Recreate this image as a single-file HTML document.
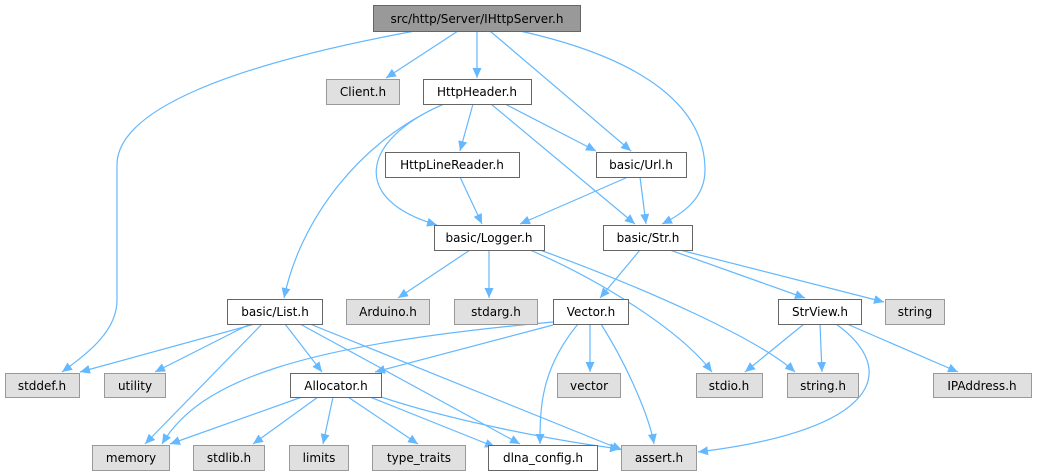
<!DOCTYPE html>
<html><head><meta charset="utf-8"><style>
html,body{margin:0;padding:0;background:#fff;width:1037px;height:476px;overflow:hidden}
svg text{font-family:"DejaVu Sans","Liberation Sans",sans-serif;font-size:12px;fill:#000;text-anchor:middle}
</style></head><body>
<svg width="1037" height="476" viewBox="0 0 1037 476" xmlns="http://www.w3.org/2000/svg">
<defs><marker id="a" markerWidth="11" markerHeight="9" refX="10" refY="4.5" orient="auto" markerUnits="userSpaceOnUse"><path d="M0,0 L10,4.5 L0,9 z" fill="#63b8ff"/></marker></defs>
<g fill="none" stroke="#63b8ff" stroke-width="1.2" marker-end="url(#a)">
<path d="M415,31 C230,65 117,110 117,165 L117,300 C117,330 90,352 62,372"/>
<path d="M458,31 L386,78"/>
<path d="M477,31 L477,78"/>
<path d="M490,31 L631,151"/>
<path d="M520,31 C650,60 705,110 705,170 C705,200 680,215 662,224"/>
<path d="M444,104 C360,140 300,220 284,298"/>
<path d="M444,104 C360,140 350,200 437,225"/>
<path d="M473,104 L460,151"/>
<path d="M505,104 L596,151"/>
<path d="M491,104 L635,224"/>
<path d="M460,177 L482,224"/>
<path d="M628,177 L520,224"/>
<path d="M640,177 L646,224"/>
<path d="M470,250 L398,298"/>
<path d="M489,250 L489,298"/>
<path d="M530,250 C600,280 680,330 712,372"/>
<path d="M540,250 C650,290 760,340 795,372"/>
<path d="M640,250 L600,298"/>
<path d="M670,250 L805,298"/>
<path d="M680,250 L884,302"/>
<path d="M255,324 L80,372"/>
<path d="M250,324 L155,372"/>
<path d="M262,324 L145,444"/>
<path d="M285,324 L322,372"/>
<path d="M300,324 L520,444"/>
<path d="M310,324 L622,450"/>
<path d="M553,322 C300,345 200,380 162,444"/>
<path d="M553,325 L375,372"/>
<path d="M578,324 C540,370 540,410 540,444"/>
<path d="M590,324 L590,372"/>
<path d="M601,324 C630,370 650,420 654,444"/>
<path d="M804,324 L745,372"/>
<path d="M820,324 L822,372"/>
<path d="M847,324 L958,372"/>
<path d="M836,324 C900,370 880,430 698,452"/>
<path d="M302,397 L170,444"/>
<path d="M318,397 L253,444"/>
<path d="M333,397 L323,444"/>
<path d="M348,397 L418,444"/>
<path d="M370,397 L495,447"/>
<path d="M381,397 C450,420 550,440 620,449"/>
</g>
<g stroke-width="1">
<rect x="373.5" y="5.5" width="207" height="26" fill="#999" stroke="#666"/>
<rect x="326.5" y="79.5" width="73" height="25" fill="#e0e0e0" stroke="#999"/>
<rect x="423.5" y="79.5" width="108" height="25" fill="#fff" stroke="#666"/>
<rect x="385.5" y="152.5" width="134" height="25" fill="#fff" stroke="#666"/>
<rect x="596.5" y="152.5" width="90" height="25" fill="#fff" stroke="#666"/>
<rect x="434.5" y="225.5" width="110" height="25" fill="#fff" stroke="#666"/>
<rect x="603.5" y="225.5" width="89" height="25" fill="#fff" stroke="#666"/>
<rect x="227.5" y="299.5" width="95" height="25" fill="#fff" stroke="#666"/>
<rect x="346.5" y="299.5" width="83" height="25" fill="#e0e0e0" stroke="#999"/>
<rect x="454.5" y="299.5" width="83" height="25" fill="#e0e0e0" stroke="#999"/>
<rect x="553.5" y="299.5" width="75" height="25" fill="#fff" stroke="#666"/>
<rect x="778.5" y="299.5" width="83" height="25" fill="#fff" stroke="#666"/>
<rect x="885.5" y="299.5" width="59" height="25" fill="#e0e0e0" stroke="#999"/>
<rect x="5.5" y="373.5" width="74" height="24" fill="#e0e0e0" stroke="#999"/>
<rect x="104.5" y="373.5" width="61" height="24" fill="#e0e0e0" stroke="#999"/>
<rect x="290.5" y="373.5" width="91" height="24" fill="#fff" stroke="#666"/>
<rect x="557.5" y="373.5" width="63" height="24" fill="#e0e0e0" stroke="#999"/>
<rect x="696.5" y="373.5" width="66" height="24" fill="#e0e0e0" stroke="#999"/>
<rect x="787.5" y="373.5" width="71" height="24" fill="#e0e0e0" stroke="#999"/>
<rect x="933.5" y="373.5" width="98" height="24" fill="#e0e0e0" stroke="#999"/>
<rect x="92.5" y="445.5" width="77" height="25" fill="#e0e0e0" stroke="#999"/>
<rect x="193.5" y="445.5" width="71" height="25" fill="#e0e0e0" stroke="#999"/>
<rect x="289.5" y="445.5" width="59" height="25" fill="#e0e0e0" stroke="#999"/>
<rect x="372.5" y="445.5" width="93" height="25" fill="#e0e0e0" stroke="#999"/>
<rect x="488.5" y="445.5" width="109" height="25" fill="#fff" stroke="#666"/>
<rect x="621.5" y="445.5" width="75" height="25" fill="#e0e0e0" stroke="#999"/>
</g>
<g>
<text x="477" y="23">src/http/Server/IHttpServer.h</text>
<text x="363" y="96">Client.h</text>
<text x="477" y="96">HttpHeader.h</text>
<text x="452" y="169">HttpLineReader.h</text>
<text x="641" y="169">basic/Url.h</text>
<text x="489" y="242">basic/Logger.h</text>
<text x="648" y="242">basic/Str.h</text>
<text x="275" y="316">basic/List.h</text>
<text x="388" y="316">Arduino.h</text>
<text x="496" y="316">stdarg.h</text>
<text x="591" y="316">Vector.h</text>
<text x="820" y="316">StrView.h</text>
<text x="915" y="316">string</text>
<text x="42" y="390">stddef.h</text>
<text x="135" y="390">utility</text>
<text x="336" y="390">Allocator.h</text>
<text x="589" y="390">vector</text>
<text x="729" y="390">stdio.h</text>
<text x="823" y="390">string.h</text>
<text x="982" y="390">IPAddress.h</text>
<text x="131" y="462">memory</text>
<text x="229" y="462">stdlib.h</text>
<text x="319" y="462">limits</text>
<text x="419" y="462">type_traits</text>
<text x="543" y="462">dlna_config.h</text>
<text x="659" y="462">assert.h</text>
</g>
</svg>
</body></html>
